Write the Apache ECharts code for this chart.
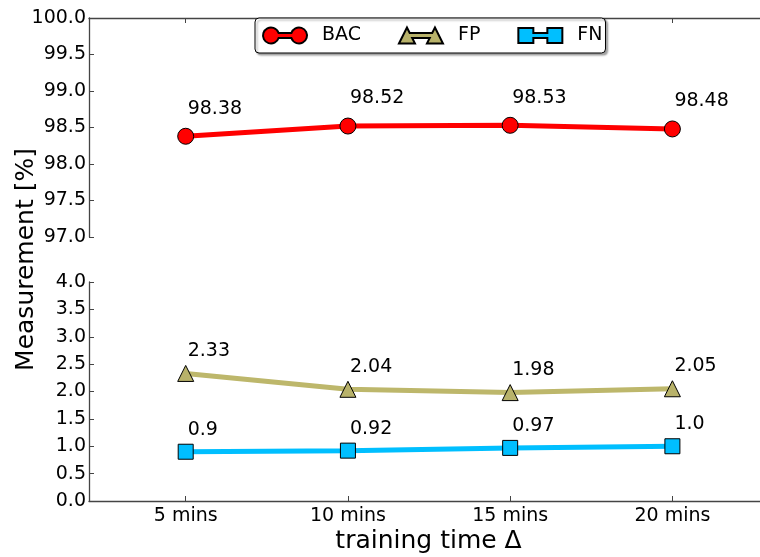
<!DOCTYPE html>
<html>
<head>
<meta charset="utf-8">
<script src="https://cdn.jsdelivr.net/npm/echarts@6/dist/echarts.min.js"></script>
<style>
  html, body { margin: 0; padding: 0; background: #fff; }
  #chart { width: 760px; height: 557px; }
</style>
</head>
<body>
<div id="chart"></div>
<script>
// Training durations and the measured rates at each one
const categories = ['5 mins', '10 mins', '15 mins', '20 mins'];
const bacValues = [98.38, 98.52, 98.53, 98.48];
const fpValues = [2.33, 2.04, 1.98, 2.05];
const fnValues = [0.9, 0.92, 0.97, 1.0];
const upperTicks = [97.0, 100.0];
const lowerTicks = [0.0, 4.0];

const FONT = 'DejaVu Sans';
const AXIS_COLOR = '#444';
const positions = categories.map((_, i) => i + 1);

const toPoints = vals => vals.map((v, i) => [positions[i], v]);
const fmtValue = v => (Number.isInteger(v) ? v.toFixed(1) : String(v));

// Legend glyphs: two markers joined by a line segment
const iconBAC = 'path://M15.6,5.5 L28.4,5.5 A8,8 0 1,1 28.4,10.5 L15.6,10.5 A8,8 0 1,1 15.6,5.5 Z';
const iconFP = 'path://M0,16 L8,0 L10.75,5.5 L33.25,5.5 L36,0 L44,16 L28,16 L30.75,10.5 L13.25,10.5 L16,16 Z';
const iconFN = 'path://M0,0.5 L15,0.5 L15,5.5 L29,5.5 L29,0.5 L44,0.5 L44,15.5 L29,15.5 L29,10.5 L15,10.5 L15,15.5 L0,15.5 Z';

const xMin = 0.404, xMax = 4.54;

function xAxisBase(gridIndex, pos, withLabels) {
  return {
    type: 'value', gridIndex, position: pos, min: xMin, max: xMax,
    splitLine: { show: false },
    axisLine: { show: true, onZero: false, lineStyle: { color: AXIS_COLOR, width: 1.3 } },
    axisTick: { show: true, inside: true, length: 5, customValues: positions, lineStyle: { color: AXIS_COLOR } },
    axisLabel: {
      show: withLabels, customValues: positions, margin: 6,
      fontFamily: FONT, fontSize: 19, color: '#000',
      formatter: v => categories[Math.round(v) - 1] || ''
    },
    name: withLabels ? 'training time \u0394' : '',
    nameLocation: 'middle', nameGap: 28,
    nameTextStyle: { fontFamily: FONT, fontSize: 25, color: '#000', padding: [0, 0, 0, 8] }
  };
}

function yAxisBase(gridIndex, range) {
  return {
    type: 'value', gridIndex, min: range[0], max: range[1], interval: 0.5,
    splitLine: { show: false },
    axisLine: { show: true, onZero: false, lineStyle: { color: AXIS_COLOR, width: 1.3 } },
    axisTick: { show: true, inside: true, length: 5, lineStyle: { color: AXIS_COLOR } },
    axisLabel: { margin: 3, fontFamily: FONT, fontSize: 19, color: '#000', formatter: v => v.toFixed(1) }
  };
}

function labelCfg(dy) {
  return {
    show: true, position: 'top', distance: 0, align: 'left', verticalAlign: 'middle',
    offset: [2, dy], fontFamily: FONT, fontSize: 19, color: '#000',
    formatter: p => fmtValue(p.value[1])
  };
}

const option = {
  animation: false,
  backgroundColor: '#fff',
  grid: [
    { left: 89, right: 0, top: 18, height: 219 },
    { left: 89, right: 0, top: 282, bottom: 56 },
    { left: 89, right: 0, top: 18, bottom: 56 }
  ],
  xAxis: [
    xAxisBase(0, 'top', false),
    xAxisBase(1, 'bottom', true),
    { type: 'value', gridIndex: 2, show: false }
  ],
  yAxis: [
    yAxisBase(0, upperTicks),
    yAxisBase(1, lowerTicks),
    {
      type: 'value', gridIndex: 2, show: true,
      axisLine: { show: false }, axisTick: { show: false }, axisLabel: { show: false },
      splitLine: { show: false },
      name: 'Measurement [%]', nameLocation: 'middle', nameGap: 50,
      nameTextStyle: { fontFamily: FONT, fontSize: 25, color: '#000' }
    }
  ],
  legend: {
    left: 255, top: 18,
    orient: 'horizontal',
    itemWidth: 44, itemHeight: 16, itemGap: 37,
    padding: [8, 3, 8, 7],
    backgroundColor: '#fff',
    borderColor: '#000', borderWidth: 1, borderRadius: 4,
    shadowColor: 'rgba(0,0,0,0.35)', shadowBlur: 2, shadowOffsetX: 2, shadowOffsetY: 2,
    textStyle: { fontFamily: FONT, fontSize: 19, color: '#000', padding: [0, 0, 0, 10] },
    data: [
      { name: 'BAC', icon: iconBAC },
      { name: 'FP', icon: iconFP },
      { name: 'FN', icon: iconFN }
    ]
  },
  series: [
    {
      name: 'BAC', type: 'line', xAxisIndex: 0, yAxisIndex: 0,
      data: toPoints(bacValues),
      symbol: 'circle', symbolSize: 16,
      lineStyle: { color: '#ff0000', width: 5 },
      itemStyle: { color: '#ff0000', borderColor: '#000', borderWidth: 1 },
      label: labelCfg(-19), z: 3
    },
    {
      name: 'FP', type: 'line', xAxisIndex: 1, yAxisIndex: 1,
      data: toPoints(fpValues),
      symbol: 'triangle', symbolSize: 16,
      lineStyle: { color: '#bdb76b', width: 5 },
      itemStyle: { color: '#b8b26a', borderColor: '#000', borderWidth: 1 },
      label: labelCfg(-14), z: 3
    },
    {
      name: 'FN', type: 'line', xAxisIndex: 1, yAxisIndex: 1,
      data: toPoints(fnValues),
      symbol: 'rect', symbolSize: 15,
      lineStyle: { color: '#00bfff', width: 5 },
      itemStyle: { color: '#00bfff', borderColor: '#000', borderWidth: 1 },
      label: labelCfg(-14), z: 3
    }
  ]
};

const chart = echarts.init(document.getElementById('chart'), null, { renderer: 'canvas' });
chart.setOption(option);
</script>
</body>
</html>
